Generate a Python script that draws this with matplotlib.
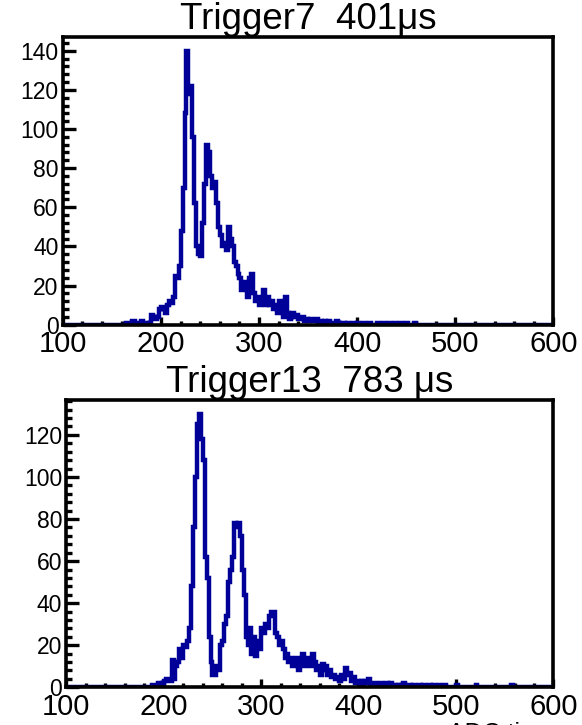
import matplotlib
matplotlib.use('Agg')
import matplotlib.pyplot as plt
import numpy as np
from matplotlib.ticker import MultipleLocator

plt.rcParams['font.family'] = ['Liberation Sans', 'DejaVu Sans']

bin_width = 2
x_range = (100, 600)

# Trigger7: counts per 2-tic bin starting at 160
t7_first = 160
t7_counts = [0, 0, 1, 1, 0, 2, 2, 1, 1, 1, 2, 1, 1, 0, 1,
             5, 4, 3, 4, 8,
             9, 8, 6, 10, 12,
             11, 14, 25, 24, 30,
             48, 70, 108, 140, 118,
             122, 96, 62, 40, 36,
             35, 52, 72, 92, 88,
             76, 70, 73, 62, 50,
             46, 40, 42, 38, 50,
             44, 40, 32, 30, 26,
             24, 18, 22, 20, 14,
             24, 26, 16, 12, 14,
             10, 12, 18, 10, 14,
             10, 12, 8, 10, 6,
             12, 10, 4, 14, 6,
             3, 4, 6, 4, 5,
             3, 3, 4, 2, 3,
             2, 3, 2, 2, 3,
             1, 2, 1, 2, 1,
             2, 1, 1, 1, 2,
             1, 0, 1, 1, 0,
             1, 0, 0, 1, 0,
             1, 0, 0, 1, 0,
             0, 1, 0, 0, 0,
             1, 0, 0, 1, 0,
             0, 1, 0, 0, 1,
             0, 0, 1, 0, 0,
             1, 0, 0, 0, 1]

# Trigger13: counts per 2-tic bin starting at 180
t13_first = 180
t13_counts = [0, 0, 0, 0, 1, 1, 1, 2, 1, 2,
              3, 4, 4, 3, 13, 4, 10, 12, 18, 14,
              20, 19, 22, 28, 48, 76, 100, 125, 130, 118,
              108, 62, 52, 24, 12, 6, 6, 10, 8, 20,
              22, 30, 34, 50, 56, 62, 78, 76, 78, 72,
              56, 44, 24, 20, 28, 16, 24, 15, 22, 18,
              28, 26, 30, 28, 34, 36, 36, 26, 24, 20,
              22, 18, 14, 16, 12, 14, 10, 12, 14, 8,
              12, 16, 10, 14, 12, 10, 16, 12, 8, 10,
              6, 11, 8, 10, 6, 8, 5, 6, 4, 5,
              3, 6, 4, 9, 6, 7, 3, 5, 2, 3,
              1, 3, 1, 3, 2, 4, 1, 1, 2, 1,
              1, 2, 1, 1, 2, 1, 2, 1, 1, 0,
              1, 0, 1, 2, 0, 1, 1, 0, 1, 0,
              0, 1, 0, 1, 0, 0, 1, 0, 1, 0,
              0, 1, 0, 0, 1, 0, 0, 0, 0, 0,
              1, 0, 0, 0, 0, 0, 0, 0, 0, 0,
              1, 0, 0, 0, 0, 0, 0, 0, 0, 0,
              0, 0, 0, 0, 0, 0, 0, 0, 1, 0]

titles = ['Trigger7  401\u03bcs', 'Trigger13  783 \u03bcs']


def full_hist(first, counts):
    edges = np.arange(x_range[0], x_range[1] + bin_width, bin_width)
    vals = np.zeros(len(edges) - 1)
    i0 = (first - x_range[0]) // bin_width
    vals[i0:i0 + len(counts)] = counts
    return edges, vals


def draw_panel(ax, first, counts, title):
    edges, vals = full_hist(first, counts)
    ax.stairs(vals, edges, color='#000099', lw=3.2, zorder=2)
    ax.set_xlim(*x_range)
    ax.set_ylim(0, vals.max() * 1.05)
    for s in ax.spines.values():
        s.set_linewidth(2.6)
        s.set_zorder(3)
    ax.xaxis.set_major_locator(MultipleLocator(100))
    ax.xaxis.set_minor_locator(MultipleLocator(20))
    ax.yaxis.set_major_locator(MultipleLocator(20))
    ax.yaxis.set_minor_locator(MultipleLocator(4))
    ax.tick_params(axis='x', which='major', direction='in', length=6, width=2.4,
                   labelsize=21, pad=4)
    ax.tick_params(axis='x', which='minor', direction='in', length=3, width=2.4)
    ax.tick_params(axis='y', which='major', direction='in', length=9, width=2.4,
                   labelsize=16.5, pad=3)
    ax.tick_params(axis='y', which='minor', direction='in', length=4.5, width=2.4)
    ax.set_title(title, fontsize=26.5, pad=-4)


fig = plt.figure(figsize=(5.82, 7.25), dpi=100)
ax1 = fig.add_axes([0.108, 0.552, 0.843, 0.397])
ax2 = fig.add_axes([0.114, 0.052, 0.837, 0.396])

draw_panel(ax1, t7_first, t7_counts, titles[0])
draw_panel(ax2, t13_first, t13_counts, titles[1])

fig.text(545 / 582, 0.004, 'ADC tics', ha='right', va='top', fontsize=18)

fig.savefig('out.png', dpi=100)
